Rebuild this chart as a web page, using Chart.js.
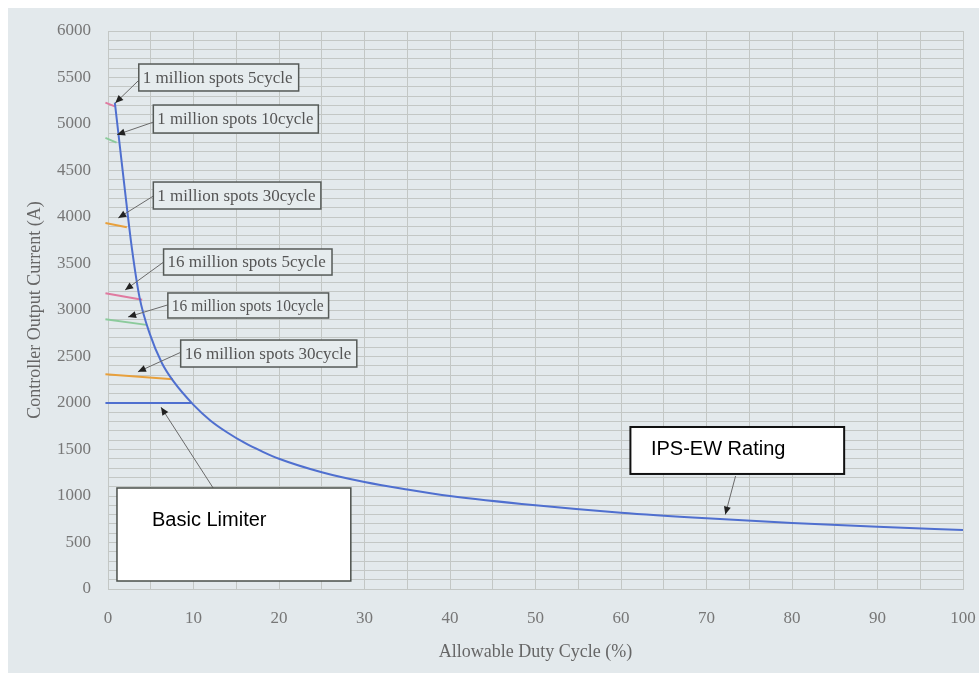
<!DOCTYPE html>
<html lang="en">
<head>
<meta charset="UTF-8">
<title>Allowable Duty Cycle</title>
<script src="https://cdn.jsdelivr.net/npm/chart.js"></script>
<style>
    html, body { margin: 0; padding: 0; background: #fff; }
    #wrap { width: 979px; height: 673px; }
</style>
</head>
<body>
<div id="wrap"><canvas id="dutyChart" width="979" height="673"></canvas></div>
<script>
// IPS-EW rating curve (duty cycle % -> controller output current A)
const dutyCycle   = [0.8, 1.4, 2.0, 2.8, 3.7, 4.9, 6.3, 7.6, 10, 12, 14, 16, 18, 20, 25, 30, 35, 40, 50, 60, 70, 80, 90, 100];
const ipsEwRating = [5230, 4750, 4270, 3660, 3130, 2740, 2430, 2240, 1980, 1810, 1680, 1570, 1480, 1400, 1255, 1150, 1070, 1000, 900, 820, 760, 710, 670, 635];

// short limiter lines starting at 0 % duty
const limiterNames   = ['1 million spots 5cycle', '1 million spots 10cycle', '1 million spots 30cycle',
                        '16 million spots 5cycle', '16 million spots 10cycle', '16 million spots 30cycle', 'Basic Limiter'];
const limiterStartA  = [5230, 4850, 3935, 3180, 2900, 2310, 2000];
const limiterEndA    = [5190, 4800, 3890, 3110, 2840, 2255, 2000];
const limiterEndDuty = [0.8, 1.0, 2.2, 4.0, 4.5, 7.6, 9.8];
const limiterColors  = ['#e07aa0', '#8ccb9c', '#e8a03c', '#e07aa0', '#8ccb9c', '#e8a03c', '#4f6fcf'];

// axis ranges / label steps
const xRange = [0, 100];
const yRange = [0, 6000];
const xLabelStep = 10;
const yLabelStep = 500;

const datasets = [{
    label: 'IPS-EW Rating',
    data: dutyCycle.map((d, i) => ({ x: d, y: ipsEwRating[i] })),
    borderColor: '#4f6fcf',
    borderWidth: 2,
    pointRadius: 0,
    cubicInterpolationMode: 'monotone'
}];
limiterNames.forEach((name, i) => {
    datasets.push({
        label: name,
        data: [{ x: -0.3, y: limiterStartA[i] }, { x: limiterEndDuty[i], y: limiterEndA[i] }],
        borderColor: limiterColors[i],
        borderWidth: 2,
        pointRadius: 0,
        clip: 4
    });
});

// callout boxes, in data units (duty %, amps)
const notes = [
    { text: limiterNames[0], box: [3.6, 5645, 22.3, 5355], from: [3.6, 5470], to: [0.85, 5225] },
    { text: limiterNames[1], box: [5.3, 5204, 24.6, 4903], from: [5.3, 5020], to: [1.05, 4885] },
    { text: limiterNames[2], box: [5.3, 4376, 24.9, 4086], from: [5.3, 4225], to: [1.2, 3990] },
    { text: limiterNames[3], box: [6.5, 3656, 26.2, 3376], from: [6.5, 3515], to: [2.0, 3215] },
    { text: limiterNames[4], box: [7.0, 3183, 25.8, 2914], from: [7.0, 3055], to: [2.35, 2925] },
    { text: limiterNames[5], box: [8.5, 2677, 29.1, 2387], from: [8.5, 2545], to: [3.5, 2335] },
    { text: 'Basic Limiter', big: true, box: [1.05, 1086, 28.4, 86], textAt: [5.15, 742], from: [12.3, 1086], to: [6.2, 1955] },
    { text: 'IPS-EW Rating', big: true, box: [61.1, 1742, 86.1, 1237], textAt: [63.5, 1495], from: [73.4, 1215], to: [72.2, 800], dark: true }
];

const scanBackground = {
    id: 'scanBackground',
    beforeDraw(chart) {
        const ctx = chart.ctx;
        ctx.save();
        ctx.fillStyle = '#ffffff';
        ctx.fillRect(0, 0, chart.width, chart.height);
        ctx.fillStyle = '#e3e9ec';
        ctx.fillRect(8, 8, chart.width - 8, chart.height - 8);
        ctx.restore();
    }
};

function arrow(ctx, x1, y1, x2, y2) {
    const ang = Math.atan2(y2 - y1, x2 - x1);
    ctx.strokeStyle = '#6a6a6a';
    ctx.lineWidth = 1;
    ctx.beginPath();
    ctx.moveTo(x1, y1);
    ctx.lineTo(x2, y2);
    ctx.stroke();
    ctx.fillStyle = '#222';
    ctx.beginPath();
    ctx.moveTo(x2, y2);
    ctx.lineTo(x2 - 8 * Math.cos(ang) + 3.5 * Math.sin(ang), y2 - 8 * Math.sin(ang) - 3.5 * Math.cos(ang));
    ctx.lineTo(x2 - 8 * Math.cos(ang) - 3.5 * Math.sin(ang), y2 - 8 * Math.sin(ang) + 3.5 * Math.cos(ang));
    ctx.closePath();
    ctx.fill();
}

const callouts = {
    id: 'callouts',
    afterDatasetsDraw(chart) {
        const ctx = chart.ctx;
        const xs = chart.scales.x, ys = chart.scales.y;
        const px = v => xs.getPixelForValue(v);
        const py = v => ys.getPixelForValue(v);
        ctx.save();
        notes.forEach(n => {
            const l = px(n.box[0]), t = py(n.box[1]), r = px(n.box[2]), b = py(n.box[3]);
            arrow(ctx, px(n.from[0]), py(n.from[1]), px(n.to[0]), py(n.to[1]));
            ctx.textBaseline = 'middle';
            ctx.textAlign = 'left';
            if (n.big) {
                ctx.fillStyle = '#ffffff';
                ctx.fillRect(l, t, r - l, b - t);
                ctx.strokeStyle = n.dark ? '#111' : '#4a4f4a';
                ctx.lineWidth = n.dark ? 2 : 1.5;
                ctx.strokeRect(l, t, r - l, b - t);
                ctx.fillStyle = '#000';
                ctx.font = '20px "Liberation Sans", Arial, sans-serif';
                ctx.fillText(n.text, px(n.textAt[0]), py(n.textAt[1]));
            } else {
                ctx.fillStyle = '#e6ecee';
                ctx.fillRect(l, t, r - l, b - t);
                ctx.strokeStyle = '#555a57';
                ctx.lineWidth = 1.5;
                ctx.strokeRect(l, t, r - l, b - t);
                ctx.fillStyle = '#555';
                ctx.font = '17px ' + serif;
                // squeeze the text sideways if it would run past the box edge
                const room = r - l - 9;
                const w = ctx.measureText(n.text).width;
                const k = Math.min(1, room / w);
                ctx.save();
                ctx.translate(l + 4, (t + b) / 2 + 1);
                ctx.scale(k, 1);
                ctx.fillText(n.text, 0, 0);
                ctx.restore();
            }
        });
        ctx.restore();
    }
};

const serif = '"Liberation Serif", "Times New Roman", serif';
const gridColor = '#c3c7c5';

new Chart(document.getElementById('dutyChart'), {
    type: 'line',
    data: { datasets: datasets },
    options: {
        responsive: false,
        animation: false,
        layout: { padding: { top: 31, right: 16, left: 0, bottom: 0 } },
        plugins: {
            legend: { display: false },
            tooltip: { enabled: false }
        },
        scales: {
            x: {
                type: 'linear',
                min: xRange[0],
                max: xRange[1],
                afterFit: s => { s.height = 84; s.paddingLeft = 0; s.paddingRight = 0; },
                grid: { color: gridColor, drawTicks: false },
                border: { display: true, color: gridColor },
                ticks: {
                    stepSize: 5,
                    autoSkip: false,
                    maxRotation: 0,
                    padding: 19,
                    color: '#777',
                    font: { family: serif, size: 17 },
                    callback: v => (v % xLabelStep === 0 ? v : '')
                },
                title: {
                    display: true,
                    text: 'Allowable Duty Cycle (%)',
                    color: '#666',
                    font: { family: serif, size: 18 },
                    padding: { top: 0, bottom: 10 }
                }
            },
            y: {
                min: yRange[0],
                max: yRange[1],
                afterFit: s => { s.width = 108; s.paddingTop = 0; s.paddingBottom = 0; },
                grid: { color: gridColor, drawTicks: false },
                border: { display: true, color: gridColor },
                ticks: {
                    stepSize: 100,
                    autoSkip: false,
                    maxTicksLimit: 100,
                    padding: 17,
                    color: '#777',
                    font: { family: serif, size: 17 },
                    callback: v => (v % yLabelStep === 0 ? v : '')
                },
                title: {
                    display: true,
                    text: 'Controller Output Current (A)',
                    color: '#666',
                    font: { family: serif, size: 18 },
                    padding: { top: 24, bottom: 0 }
                }
            }
        }
    },
    plugins: [scanBackground, callouts]
});
</script>
</body>
</html>
